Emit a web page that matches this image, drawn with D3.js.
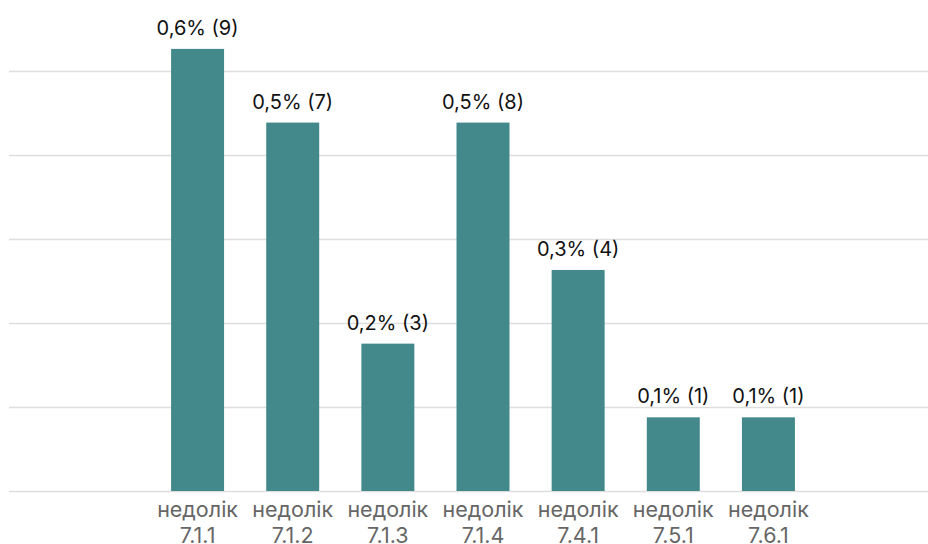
<!DOCTYPE html>
<html>
<head>
<meta charset="utf-8">
<script src="https://cdn.jsdelivr.net/npm/d3@7"></script>
<style>
  body { margin: 0; background: #fff; }
  svg { display: block; font-family: Inter, "Noto Sans", sans-serif; }
</style>
</head>
<body>
<svg width="928" height="544"></svg>
<script>
// chart data
const categories = ['7.1.1', '7.1.2', '7.1.3', '7.1.4', '7.4.1', '7.5.1', '7.6.1'];
const percents = [0.6, 0.5, 0.2, 0.5, 0.3, 0.1, 0.1];
const counts = [9, 7, 3, 8, 4, 1, 1];
const gridValues = [0, 0.114, 0.228, 0.342, 0.456, 0.57];

(function (d3) {
    'use strict';
    const svg = d3.select('svg');
    const baseline = 491;

    const x = d3.scaleBand()
        .domain(categories)
        .range([150, 816])
        .paddingInner(0.443)
        .paddingOuter(0.2215);

    const y = d3.scaleLinear()
        .domain([0, 0.57])
        .range([baseline, 71]);

    // grid lines
    svg.append('g').selectAll('line')
        .data(gridValues)
        .enter().append('line')
          .attr('x1', 9)
          .attr('x2', 928)
          .attr('y1', d => Math.round(y(d)) + 0.5)
          .attr('y2', d => Math.round(y(d)) + 0.5)
          .attr('stroke', '#dedede')
          .attr('stroke-width', 1.3);

    const data = categories.map((c, i) => ({ cat: c, pct: percents[i], n: counts[i] }));

    svg.append('g').selectAll('rect')
        .data(data)
        .enter().append('rect')
          .attr('x', d => x(d.cat))
          .attr('y', d => y(d.pct))
          .attr('width', x.bandwidth())
          .attr('height', d => baseline - y(d.pct))
          .attr('fill', '#43898c');

    // value labels
    svg.append('g').selectAll('text')
        .data(data)
        .enter().append('text')
          .attr('x', d => x(d.cat) + x.bandwidth() / 2)
          .attr('y', d => y(d.pct) - 14)
          .attr('text-anchor', 'middle')
          .attr('font-size', 20)
          .attr('fill', '#111')
          .text(d => String(d.pct).replace('.', ',') + '% (' + d.n + ')');

    // category labels
    const lab = svg.append('g').selectAll('text')
        .data(data)
        .enter().append('text')
          .attr('text-anchor', 'middle')
          .attr('font-size', 21.5)
          .attr('fill', '#666');
    lab.append('tspan')
        .attr('x', d => x(d.cat) + x.bandwidth() / 2)
        .attr('y', 517)
        .text('недолік');
    lab.append('tspan')
        .attr('x', d => x(d.cat) + x.bandwidth() / 2)
        .attr('y', 543)
        .text(d => d.cat);
}(d3));
</script>
</body>
</html>
